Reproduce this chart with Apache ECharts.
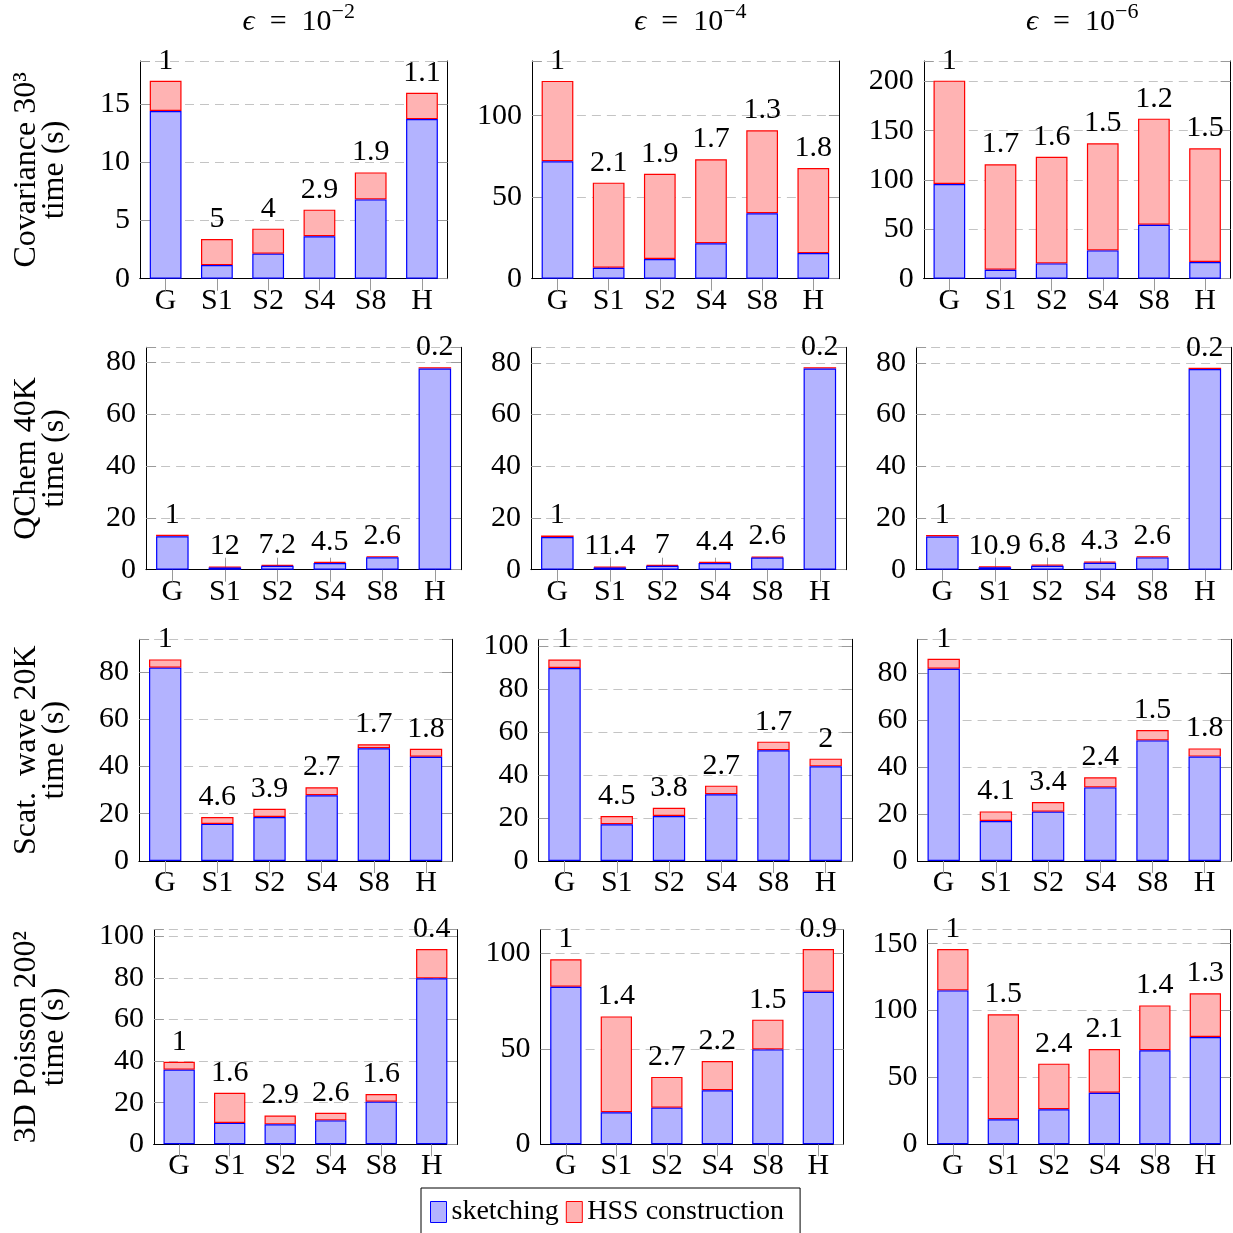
<!DOCTYPE html>
<html><head><meta charset="utf-8">
<script src="https://cdn.jsdelivr.net/npm/echarts@6/dist/echarts.min.js"></script>
<style>html,body{margin:0;padding:0;background:#fff}#c{width:1233px;height:1233px}</style>
</head><body><div id="c"></div>
<script>
// ---------- data ----------
const categories = ['G', 'S1', 'S2', 'S4', 'S8', 'H'];
const epsExponents = ['2', '4', '6'];
const rowNames = ['Covariance 30³', 'QChem 40K', 'Scat.  wave 20K', '3D Poisson 200²'];

// Covariance 30^3
const sketchCov2 = [14.4, 1.17, 2.15, 3.64, 6.81, 13.71];
const hssCov2    = [2.6, 2.23, 2.15, 2.29, 2.32, 2.26];
const labelsCov2 = ['1', '5', '4', '2.9', '1.9', '1.1'];
const sketchCov4 = [72.0, 6.75, 12.1, 21.7, 40.1, 15.7];
const hssCov4    = [49.3, 52.15, 52.3, 51.5, 50.9, 52.2];
const labelsCov4 = ['1', '2.1', '1.9', '1.7', '1.3', '1.8'];
const sketchCov6 = [95.9, 9.1, 15.5, 28.7, 54.7, 16.9];
const hssCov6    = [104.8, 106.8, 108.1, 108.5, 107.5, 115.2];
const labelsCov6 = ['1', '1.7', '1.6', '1.5', '1.2', '1.5'];
// QChem 40K
const sketchQc2 = [12.9, 0.85, 1.5, 2.6, 4.8, 77.6];
const hssQc2    = [0.6, 0.27, 0.38, 0.4, 0.4, 0.5];
const labelsQc2 = ['1', '12', '7.2', '4.5', '2.6', '0.2'];
const sketchQc4 = [12.6, 0.85, 1.5, 2.6, 4.7, 77.8];
const hssQc4    = [0.6, 0.31, 0.39, 0.4, 0.38, 0.5];
const labelsQc4 = ['1', '11.4', '7', '4.4', '2.6', '0.2'];
const sketchQc6 = [12.8, 0.9, 1.55, 2.7, 4.75, 77.6];
const hssQc6    = [0.6, 0.33, 0.42, 0.4, 0.4, 0.5];
const labelsQc6 = ['1', '10.9', '6.8', '4.3', '2.6', '0.2'];
// Scat. wave 20K
const sketchSw2 = [81.8, 15.7, 18.6, 27.8, 47.7, 44.1];
const hssSw2    = [3.5, 2.9, 3.5, 3.4, 1.7, 3.4];
const labelsSw2 = ['1', '4.6', '3.9', '2.7', '1.7', '1.8'];
const sketchSw4 = [89.9, 17.1, 21.0, 31.1, 51.6, 44.1];
const hssSw4    = [4.0, 3.9, 3.8, 4.0, 4.0, 3.6];
const labelsSw4 = ['1', '4.5', '3.8', '2.7', '1.7', '2'];
const sketchSw6 = [81.8, 17.0, 21.0, 31.3, 51.3, 44.4];
const hssSw6    = [4.2, 4.1, 4.1, 4.3, 4.4, 3.5];
const labelsSw6 = ['1', '4.1', '3.4', '2.4', '1.5', '1.8'];
// 3D Poisson 200^2
const sketchPo2 = [35.9, 10.3, 9.6, 11.5, 20.5, 79.8];
const hssPo2    = [3.8, 14.5, 4.2, 3.7, 3.7, 14.1];
const labelsPo2 = ['1', '1.6', '2.9', '2.6', '1.6', '0.4'];
const sketchPo4 = [82.5, 16.8, 19.2, 28.3, 49.7, 79.9];
const hssPo4    = [14.4, 50.2, 16.1, 15.3, 15.6, 22.4];
const labelsPo4 = ['1', '1.4', '2.7', '2.2', '1.5', '0.9'];
const sketchPo6 = [115.1, 18.7, 26.2, 38.6, 70.3, 80.2];
const hssPo6    = [30.9, 78.5, 34.1, 32.7, 33.6, 32.7];
const labelsPo6 = ['1', '1.5', '2.4', '2.1', '1.4', '1.3'];

// y-axis ranges [max, tick interval]
const yAxisMax = [18.7, 133.5, 220.6, 85.8, 86, 86, 93.8, 103.3, 94.3, 103.2, 112.4, 160.5];
const yAxisStep = [5, 50, 50, 20, 20, 20, 20, 20, 20, 20, 50, 50];

const panelData = [
  [sketchCov2, hssCov2, labelsCov2], [sketchCov4, hssCov4, labelsCov4], [sketchCov6, hssCov6, labelsCov6],
  [sketchQc2, hssQc2, labelsQc2], [sketchQc4, hssQc4, labelsQc4], [sketchQc6, hssQc6, labelsQc6],
  [sketchSw2, hssSw2, labelsSw2], [sketchSw4, hssSw4, labelsSw4], [sketchSw6, hssSw6, labelsSw6],
  [sketchPo2, hssPo2, labelsPo2], [sketchPo4, hssPo4, labelsPo4], [sketchPo6, hssPo6, labelsPo6]
];

// ---------- layout ----------
const rowTop = [61, 347.3, 639.3, 929.7];
const rowHeight = [217.7, 222.4, 221.7, 214.6];
const colLR = [
  [[140, 447.6], [531.9, 838.9], [923.8, 1230.6]],
  [[146.1, 461.1], [531.1, 846.1], [916.1, 1231.1]],
  [[139.1, 452.1], [538.4, 851.8], [917.6, 1230.8]],
  [[153.9, 457], [540.6, 843.6], [927.6, 1230.6]]
];
const FONT = '"Liberation Serif", "DejaVu Serif", serif';
const BLUE_FILL = '#b3b3ff', BLUE_LINE = '#0000ff', RED_FILL = '#ffb3b3', RED_LINE = '#ff0000';
const TICK = '#9a9a9a';

const grids = [], xAxes = [], yAxes = [], series = [];
for (let i = 0; i < 12; i++) {
  const r = Math.floor(i / 3), c = i % 3;
  const [l, rr] = colLR[r][c];
  grids.push({ left: l, top: rowTop[r], width: rr - l, height: rowHeight[r], outerBoundsMode: 'none' });
  const step = yAxisStep[i];
  xAxes.push({
    type: 'category', gridIndex: i, data: categories, position: 'bottom', z: 0,
    axisLine: { show: true, lineStyle: { color: '#000', width: 1 } },
    axisTick: { show: true, inside: true, alignWithLabel: true, length: 12, lineStyle: { color: TICK } },
    axisLabel: { fontFamily: FONT, fontSize: 30, color: '#000', margin: 7 },
    splitLine: { show: false }
  });
  xAxes.push({
    type: 'category', gridIndex: i, data: categories, position: 'top', z: 1,
    axisLine: { show: true, lineStyle: { color: '#000', width: 1 } },
    axisTick: { show: true, inside: true, alignWithLabel: true, length: 12, lineStyle: { color: TICK } },
    axisLabel: { show: false }, splitLine: { show: false }
  });
  const yName = c === 0 ? rowNames[r] + '\ntime (s)' : '';
  yAxes.push({
    type: 'value', gridIndex: i, min: 0, max: yAxisMax[i], interval: step, position: 'left', z: 0,
    name: yName, nameLocation: 'middle', nameRotate: 90, nameGap: l - 69,
    nameTextStyle: { fontFamily: FONT, fontSize: 32, color: '#000', lineHeight: 28 },
    axisLine: { show: true, lineStyle: { color: '#000', width: 1 } },
    axisTick: { show: true, inside: true, length: 10, lineStyle: { color: TICK } },
    axisLabel: {
      fontFamily: FONT, fontSize: 30, color: '#000', margin: 10,
      formatter: v => (Math.abs(v / step - Math.round(v / step)) < 1e-6 ? String(Math.round(v)) : '')
    },
    splitLine: { show: true, lineStyle: { color: '#c4c4c4', width: 1, type: [9, 6] } }
  });
  yAxes.push({
    type: 'value', gridIndex: i, min: 0, max: yAxisMax[i], interval: step, position: 'right', z: 1,
    axisLine: { show: true, lineStyle: { color: '#000', width: 1 } },
    axisTick: { show: true, inside: true, length: 10, lineStyle: { color: TICK } },
    axisLabel: { show: false }, splitLine: { show: false }
  });
  const [sk, hs, lb] = panelData[i];
  series.push({
    type: 'bar', name: 'sketching', stack: 'p' + i, xAxisIndex: 2 * i, yAxisIndex: 2 * i,
    data: sk, barWidth: '62%', z: 3,
    itemStyle: { color: BLUE_FILL, borderColor: BLUE_LINE, borderWidth: 1.2 }
  });
  series.push({
    type: 'bar', name: 'HSS construction', stack: 'p' + i, xAxisIndex: 2 * i, yAxisIndex: 2 * i,
    data: hs, barWidth: '62%', z: 2,
    itemStyle: { color: RED_FILL, borderColor: RED_LINE, borderWidth: 1.2 },
    label: {
      show: true, position: 'top', distance: 5, fontFamily: FONT, fontSize: 30, color: '#000',
      formatter: p => lb[p.dataIndex]
    }
  });
}

const titles = epsExponents.map((e, j) => {
  const [l, rr] = colLR[0][j];
  return {
    text: '{e|ϵ}  =  10{s|−' + e + '}',
    left: (l + rr) / 2, top: -4, textAlign: 'center',
    textStyle: {
      fontFamily: FONT, fontSize: 30, fontWeight: 'normal', color: '#000', lineHeight: 42,
      rich: {
        e: { fontFamily: FONT, fontSize: 30, fontStyle: 'italic', color: '#000', lineHeight: 42 },
        s: { fontFamily: FONT, fontSize: 22, color: '#000', lineHeight: 22, verticalAlign: 'top' }
      }
    }
  };
});

const chart = echarts.init(document.getElementById('c'), null, { renderer: 'canvas' });
chart.setOption({
  animation: false,
  backgroundColor: '#fff',
  title: titles,
  grid: grids,
  xAxis: xAxes,
  yAxis: yAxes,
  series: series,
  legend: {
    left: 421, top: 1188, orient: 'horizontal', selectedMode: false,
    icon: 'rect', itemWidth: 16, itemHeight: 21, itemGap: 7,
    padding: [10, 16, 10, 9], borderColor: '#000', borderWidth: 1,
    textStyle: { fontFamily: FONT, fontSize: 28, color: '#000' },
    data: [
      { name: 'sketching', itemStyle: { color: BLUE_FILL, borderColor: BLUE_LINE, borderWidth: 1 } },
      { name: 'HSS construction', itemStyle: { color: RED_FILL, borderColor: RED_LINE, borderWidth: 1 } }
    ]
  }
});
</script></body></html>
